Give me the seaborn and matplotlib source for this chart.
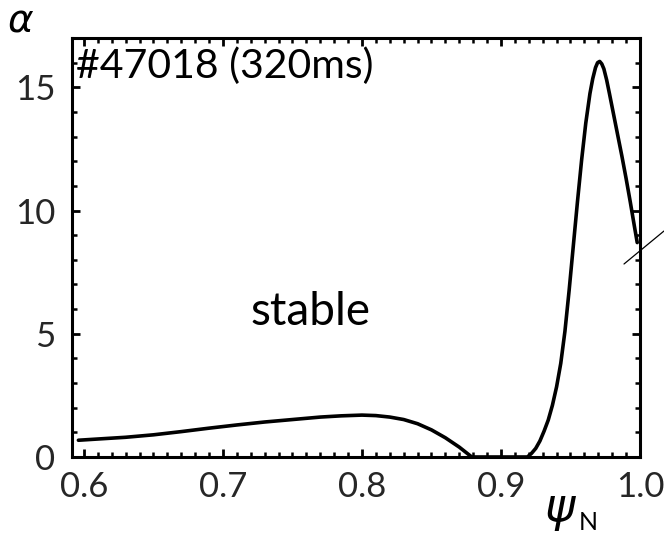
import matplotlib
matplotlib.use("Agg")
import matplotlib.pyplot as plt
from matplotlib.lines import Line2D
from matplotlib.ticker import MultipleLocator
import numpy as np
import pandas as pd
import seaborn as sns

# normalised poloidal flux and the ballooning parameter alpha
psi_n = [0.596, 0.61, 0.63, 0.65, 0.67, 0.69, 0.71, 0.73, 0.75, 0.77,
         0.785, 0.80, 0.81, 0.82, 0.83, 0.84, 0.85, 0.86, 0.87, 0.879,
         0.90, 0.919, 0.922, 0.925, 0.928, 0.931, 0.934, 0.937, 0.940,
         0.943, 0.946, 0.949, 0.952, 0.955, 0.958, 0.961, 0.964, 0.966,
         0.968, 0.9695, 0.971, 0.9725, 0.974, 0.976, 0.978, 0.981, 0.984,
         0.987, 0.990, 0.993, 0.996, 0.998]
alpha = [0.68, 0.73, 0.80, 0.90, 1.03, 1.17, 1.30, 1.42, 1.52, 1.62,
         1.67, 1.70, 1.68, 1.62, 1.52, 1.35, 1.10, 0.78, 0.40, 0.0,
         0.0, 0.0, 0.15, 0.35, 0.65, 1.05, 1.5, 2.1, 2.85,
         3.8, 5.1, 6.75, 8.55, 10.35, 12.05, 13.55, 14.75, 15.35,
         15.8, 16.0, 16.05, 15.95, 15.75, 15.3, 14.75, 13.9, 13.05,
         12.2, 11.3, 10.35, 9.35, 8.7]

x_ticks = [0.6, 0.7, 0.8, 0.9, 1.0]
x_tick_labels = ["0.6", "0.7", "0.8", "0.9", "1.0"]
y_ticks = [0, 5, 10, 15]
y_tick_labels = ["0", "5", "10", "15"]

shot_label = "#47018 (320ms)"
region_label = "stable"

df = pd.DataFrame({"psi": psi_n, "alpha": alpha})

sns.set_theme(style="ticks")
plt.rcParams["font.family"] = ["Lato", "DejaVu Sans"]

fig = plt.figure(figsize=(6.64, 5.34), dpi=100)
fig.patch.set_facecolor("white")
ax = fig.add_axes([72 / 664, 1 - 457 / 534, (640 - 72) / 664, (457 - 38) / 534])
ax.set_facecolor("white")

sns.lineplot(data=df, x="psi", y="alpha", ax=ax, color="black",
             linewidth=2.6, sort=False, legend=False)
ax.lines[0].set_solid_joinstyle("round")
ax.lines[0].set_solid_capstyle("round")

ax.set_xlim(0.5914, 1.0)
ax.set_ylim(0, 17)
ax.set_xticks(x_ticks)
ax.set_xticklabels(x_tick_labels)
ax.set_yticks(y_ticks)
ax.set_yticklabels(y_tick_labels)
ax.xaxis.set_minor_locator(MultipleLocator(0.01))
ax.yaxis.set_minor_locator(MultipleLocator(1))
ax.set_xlabel("")
ax.set_ylabel("")

for s in ax.spines.values():
    s.set_linewidth(2.2)
    s.set_color("black")
    s.set_visible(True)

ax.tick_params(which="both", direction="in", top=True, right=True,
               color="black")
ax.tick_params(which="major", length=6, width=2.0, labelsize=25, pad=10)
ax.tick_params(which="minor", length=3.5, width=1.8)
ax.tick_params(axis="y", which="major", pad=12)

ax.text(0.5943, 15.85, shot_label, ha="left", va="center", fontsize=29.5,
        color="black")
ax.text(0.763, 5.9, region_label, ha="center", va="center", fontsize=33,
        color="black")

# axis symbols
fig.text(21 / 664, 1 - 21 / 534, r"$\alpha$", ha="center", va="center",
         fontsize=28, color="black")
fig.text(560 / 664, 1 - 512 / 534, r"$\psi$", ha="center", va="center",
         fontsize=33, color="black")
fig.text(588 / 664, 1 - 522 / 534, "N", ha="center", va="center",
         fontsize=18, color="black")

# pointer line leaving the right edge
fig.add_artist(Line2D([624 / 664, 1.0], [1 - 264 / 534, 1 - 231 / 534],
                      transform=fig.transFigure, color="black",
                      linewidth=0.9))

fig.savefig("out.png", dpi=100, facecolor=fig.get_facecolor())
